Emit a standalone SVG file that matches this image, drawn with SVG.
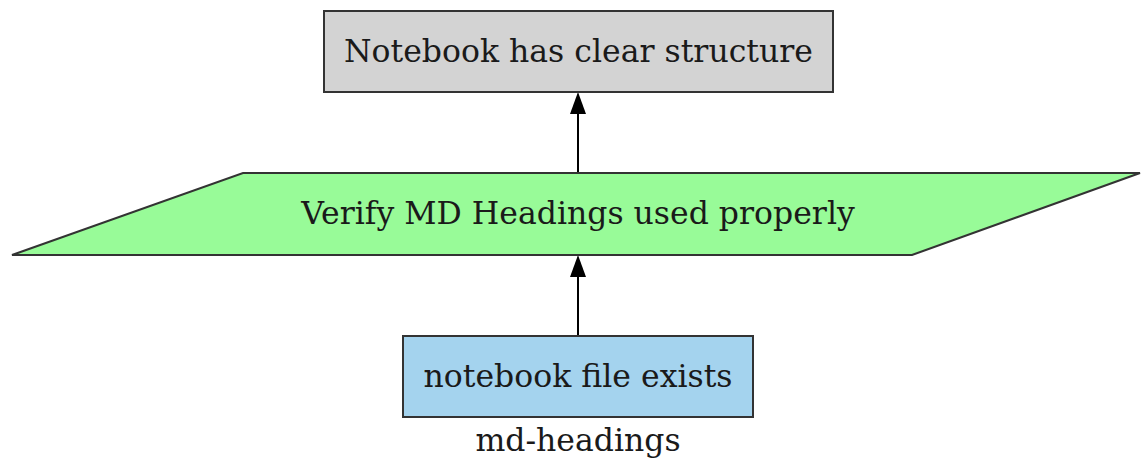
<svg xmlns="http://www.w3.org/2000/svg" width="1143" height="460" viewBox="0 0 1143 460">
  <style>
    .shape { stroke: #333333; stroke-width: 2; }
    .label { font-family: "DejaVu Serif", serif; font-size: 31.5px; fill: #1a1a1a; text-anchor: middle; }
    .edge { stroke: #000000; stroke-width: 2; fill: none; }
  </style>
  <rect width="1143" height="460" fill="#ffffff"/>

  <g id="edges">
    <line class="edge" x1="578" y1="173" x2="578" y2="112"/>
    <polygon points="570,114 586,114 578,92" fill="#000000"/>
    <line class="edge" x1="578" y1="336" x2="578" y2="275"/>
    <polygon points="570,277 586,277 578,255" fill="#000000"/>
  </g>

  <g id="node-structure">
    <rect class="shape" x="324" y="11" width="509" height="81" fill="#d3d3d3"/>
    <text class="label" x="578.5" y="62">Notebook has clear structure</text>
  </g>

  <g id="node-verify">
    <polygon class="shape" points="243,173 1140,173 912,255 12,255" fill="#98fb98"/>
    <text class="label" x="578" y="224">Verify MD Headings used properly</text>
  </g>

  <g id="node-exists">
    <rect class="shape" x="403" y="336" width="350" height="81" fill="#a4d3ee"/>
    <text class="label" x="578" y="387">notebook file exists</text>
    <text class="label" x="578" y="451">md-headings</text>
  </g>
</svg>
